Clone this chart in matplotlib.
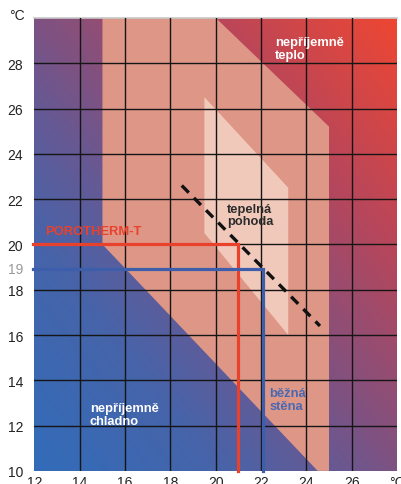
import numpy as np
import matplotlib.pyplot as plt
from matplotlib.colors import LinearSegmentedColormap
from matplotlib.patches import Polygon

# axis ticks
x_ticks = [12, 14, 16, 18, 20, 22, 24, 26, 28]
x_labels = ["12", "14", "16", "18", "20", "22", "24", "26", "°C"]
y_ticks = [10, 12, 14, 16, 18, 19, 20, 22, 24, 26, 28]
y_labels = ["10", "12", "14", "16", "18", "19", "20", "22", "24", "26", "28"]
grid_x = [14, 16, 18, 20, 22, 24, 26]
grid_y = [12, 14, 16, 18, 20, 22, 24, 26, 28]

# comfort zone (air temp, wall temp)
zone_x = [15, 20, 25, 25, 24.5, 15]
zone_y = [30, 30, 25.2, 10, 10, 20]
core_x = [19.5, 23.2, 23.2, 19.5]
core_y = [26.5, 22.5, 16.0, 20.5]

# dashed comfort line
dash_x = [18.5, 24.6]
dash_y = [22.6, 16.4]

# wall surface temps vs required air temps
poro_wall, poro_air = 20.0, 21.0
std_wall, std_air = 18.9, 22.1

BG_STOPS = [(0.0, "#326cb9"), (0.25, "#4664aa"), (0.4, "#645a96"),
            (0.5, "#7d5282"), (0.75, "#b9465a"), (1.0, "#ee4632")]

fig = plt.figure(figsize=(4.01, 4.85), dpi=100)
ax = fig.add_axes([0.086, 0.027, 0.904, 0.934])

# diagonal background gradient, blue -> red
cmap = LinearSegmentedColormap.from_list("bg", BG_STOPS)
gx, gy = np.meshgrid(np.linspace(0, 1, 200), np.linspace(0, 1, 200))
ax.imshow((gx + gy) / 2, cmap=cmap, extent=[12, 28, 10, 30], origin="lower",
          aspect="auto", zorder=0, vmin=0, vmax=1)

ax.add_patch(Polygon(np.column_stack([zone_x, zone_y]), closed=True,
                     facecolor="#de9787", edgecolor="none", zorder=1))
ax.add_patch(Polygon(np.column_stack([core_x, core_y]), closed=True,
                     facecolor="#f1c9bb", edgecolor="none", zorder=2))

for gxv in grid_x:
    ax.axvline(gxv, color="#151515", lw=1, zorder=3)
for gyv in grid_y:
    ax.axhline(gyv, color="#151515", lw=1, zorder=3)

ax.plot([11.95, poro_air, poro_air], [poro_wall, poro_wall, 10],
        color="#e8412c", lw=2.3, zorder=4, clip_on=False, solid_joinstyle="miter")
ax.plot([11.95, std_air, std_air], [std_wall, std_wall, 10],
        color="#3d5fab", lw=2.3, zorder=4, clip_on=False, solid_joinstyle="miter")
ax.plot(dash_x, dash_y, color="#111111", lw=2.4, ls=(0, (3, 2.2)), zorder=5)

bold = dict(fontfamily="Liberation Sans", fontweight="bold", fontsize=9.3,
            va="center", ha="left", linespacing=1.05, zorder=6)
ax.text(22.6, 28.65, "nepříjemně\nteplo", color="white", **bold)
ax.text(20.5, 21.3, "tepelná\npohoda", color="#2b2b2b", **bold)
ax.text(14.45, 12.5, "nepříjemně\nchladno", color="white", **bold)
ax.text(22.37, 13.15, "běžná\nstěna", color="#4768b3", **bold)
ax.text(12.45, 20.6, "POROTHERM-T", color="#e8412c",
        **{**bold, "fontsize": 9.4})

ax.set_xlim(12, 28)
ax.set_ylim(10, 30)
ax.set_xticks(x_ticks)
ax.set_xticklabels(x_labels)
ax.set_yticks(y_ticks)
ax.set_yticklabels(y_labels)
ax.tick_params(length=0, labelsize=10, labelcolor="#222222")
ax.tick_params(axis="x", pad=3)
ax.tick_params(axis="y", pad=8)
for t in ax.get_xticklabels() + ax.get_yticklabels():
    t.set_fontfamily("Liberation Sans")
ax.get_yticklabels()[y_labels.index("19")].set_color("#9a9a9a")

for s in ["left", "right", "bottom"]:
    ax.spines[s].set_visible(False)
ax.spines["top"].set_color("#c8c8c8")
ax.spines["top"].set_linewidth(1.2)

fig.text(17 / 401, 1 - 16 / 485, "°C", fontsize=10, color="#222222",
         fontfamily="Liberation Sans", ha="center", va="center")

fig.savefig("out.png", dpi=100)
